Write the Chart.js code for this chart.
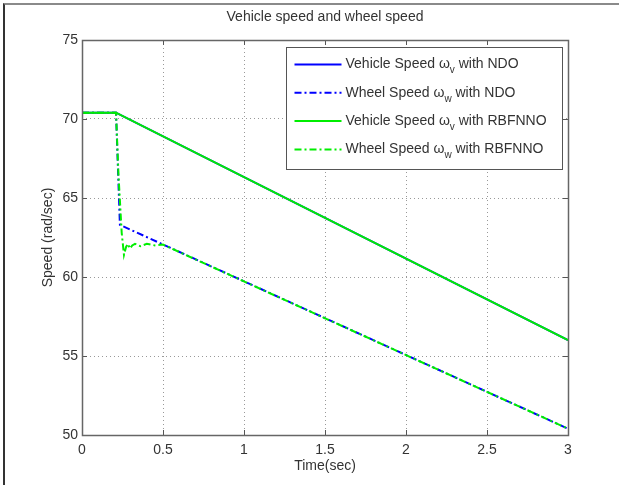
<!DOCTYPE html>
<html>
<head>
<meta charset="utf-8">
<script src="https://cdn.jsdelivr.net/npm/chart.js@4"></script>
<style>
    html, body { margin: 0; padding: 0; background: #fff; }
    #wrap { position: relative; width: 619px; height: 485px; }
    #frame { position: absolute; left: 3px; top: 3px; width: 614px; height: 480px;
             border-top: 2px solid #8a8a8a; border-left: 2px solid #333; pointer-events: none; }
</style>
</head>
<body>
<div id="wrap">
    <canvas id="chart" width="619" height="485"></canvas>
    <div id="frame"></div>
</div>
<script>
// values
const timeVehicle = [0, 0.21, 3];
const vehicleNDO = [70.4, 70.4, 56.0];
const vehicleRBF = [70.4, 70.4, 56.0];

const timeWheelNDO = [0, 0.21, 0.234, 3];
const wheelNDO = [70.4, 70.4, 63.3, 50.4];

const timeWheelRBF = [0, 0.21, 0.225, 0.245, 0.259, 0.272, 0.283, 0.296, 0.31, 0.327, 0.36, 0.4, 0.45, 0.5, 3];
const wheelRBF = [70.4, 70.4, 66.5, 62.8, 61.4, 61.9, 62.1, 61.8, 62.0, 62.1, 61.95, 62.1, 62.0, 62.05, 50.4];

const xTicks = [0, 0.5, 1, 1.5, 2, 2.5, 3];
const yTicks = [50, 55, 60, 65, 70, 75];

const chartTitle = 'Vehicle speed and wheel speed';
const seriesLabels = [
    ['Vehicle Speed ω', 'v', ' with NDO'],
    ['Wheel Speed ω', 'w', ' with NDO'],
    ['Vehicle Speed ω', 'v', ' with RBFNNO'],
    ['Wheel Speed ω', 'w', ' with RBFNNO']
];

const BLUE = '#0000ff';
const GREEN = '#00ee00';
const DASHDOT = [7, 3, 2, 3];
const FONT = '"Liberation Sans", Arial, sans-serif';
const TEXT = '#333';

const pts = (xs, ys) => xs.map((x, i) => ({ x, y: ys[i] }));

const datasets = [
    { data: pts(timeVehicle, vehicleNDO), borderColor: BLUE, borderDash: [], order: 1 },
    { data: pts(timeWheelNDO, wheelNDO), borderColor: BLUE, borderDash: DASHDOT, order: 1 },
    { data: pts(timeVehicle, vehicleRBF), borderColor: GREEN, borderDash: [], order: 0 },
    { data: pts(timeWheelRBF, wheelRBF), borderColor: GREEN, borderDash: DASHDOT, order: 0 }
].map((d, i) => ({
    ...d,
    label: seriesLabels[i].join(''),
    borderWidth: 2,
    pointRadius: 0,
    tension: 0,
    fill: false
}));

// title over the axes, plot box, inward ticks and the in-axes legend, MATLAB style
const matlabAxes = {
    id: 'matlabAxes',
    afterDraw(chart) {
        const { ctx, chartArea: a, scales: { x, y } } = chart;
        ctx.save();

        ctx.fillStyle = TEXT;
        ctx.font = '14px ' + FONT;
        ctx.textAlign = 'center';
        ctx.textBaseline = 'middle';
        ctx.fillText(chartTitle, (a.left + a.right) / 2, a.top - 23);

        ctx.setLineDash([]);
        ctx.strokeStyle = '#555';
        ctx.lineWidth = 1;
        ctx.beginPath();
        xTicks.forEach(v => {
            const px = Math.round(x.getPixelForValue(v)) + 0.5;
            ctx.moveTo(px, a.bottom); ctx.lineTo(px, a.bottom - 5);
            ctx.moveTo(px, a.top); ctx.lineTo(px, a.top + 5);
        });
        yTicks.forEach(v => {
            const py = Math.round(y.getPixelForValue(v)) + 0.5;
            ctx.moveTo(a.left, py); ctx.lineTo(a.left + 5, py);
            ctx.moveTo(a.right, py); ctx.lineTo(a.right - 5, py);
        });
        ctx.stroke();
        ctx.lineWidth = 1.5;
        ctx.strokeStyle = '#666';
        ctx.strokeRect(Math.round(a.left) + 0.5, Math.round(a.top) + 0.5,
            Math.round(a.right - a.left), Math.round(a.bottom - a.top));

        // legend
        const w = 276, h = 122;
        const lx = Math.round(a.right - 6 - w) + 0.5;
        const ly = Math.round(a.top + 7) + 0.5;
        ctx.fillStyle = '#fff';
        ctx.fillRect(lx, ly, w, h);
        ctx.lineWidth = 1;
        ctx.strokeStyle = '#555';
        ctx.strokeRect(lx, ly, w, h);
        datasets.forEach((d, i) => {
            const ry = ly + 17 + i * 28.3;
            ctx.beginPath();
            ctx.setLineDash(d.borderDash);
            ctx.strokeStyle = d.borderColor;
            ctx.lineWidth = 2;
            ctx.moveTo(lx + 8, ry);
            ctx.lineTo(lx + 55, ry);
            ctx.stroke();
            ctx.setLineDash([]);
            const [a1, sub, a2] = seriesLabels[i];
            let tx = lx + 59;
            ctx.fillStyle = TEXT;
            ctx.textBaseline = 'middle';
            ctx.textAlign = 'left';
            ctx.font = '14px ' + FONT;
            ctx.fillText(a1, tx, ry);
            tx += ctx.measureText(a1).width;
            ctx.font = '10px ' + FONT;
            ctx.fillText(sub, tx, ry + 6);
            tx += ctx.measureText(sub).width;
            ctx.font = '14px ' + FONT;
            ctx.fillText(a2, tx, ry);
        });
        ctx.restore();
    }
};

new Chart(document.getElementById('chart'), {
    type: 'line',
    data: { datasets },
    options: {
        responsive: false,
        animation: false,
        events: [],
        layout: { padding: { left: 0, right: 51, top: 40, bottom: 0 } },
        plugins: {
            legend: { display: false },
            tooltip: { enabled: false },
            title: { display: false }
        },
        scales: {
            x: {
                type: 'linear',
                min: 0,
                max: 3,
                afterBuildTicks: s => { s.ticks = xTicks.map(value => ({ value })); },
                afterFit: s => { s.height = 50; },
                ticks: { color: TEXT, font: { family: FONT, size: 14 }, padding: 7, maxRotation: 0,
                         callback: v => String(v) },
                grid: { color: '#999', lineWidth: 1, drawTicks: false },
                border: { display: false, dash: [1, 3] },
                title: { display: true, text: 'Time(sec)', color: TEXT,
                         font: { family: FONT, size: 14 }, padding: { top: 0, bottom: 10 } }
            },
            y: {
                min: 50,
                max: 75,
                afterBuildTicks: s => { s.ticks = yTicks.map(value => ({ value })); },
                afterFit: s => { s.width = 82; },
                ticks: { color: TEXT, font: { family: FONT, size: 14 }, padding: 4,
                         callback: v => String(v) },
                grid: { color: '#999', lineWidth: 1, drawTicks: false },
                border: { display: false, dash: [1, 3] },
                title: { display: true, text: 'Speed (rad/sec)', color: TEXT,
                         font: { family: FONT, size: 14 }, padding: { top: 40, bottom: 0 } }
            }
        }
    },
    plugins: [matlabAxes]
});
</script>
</body>
</html>
